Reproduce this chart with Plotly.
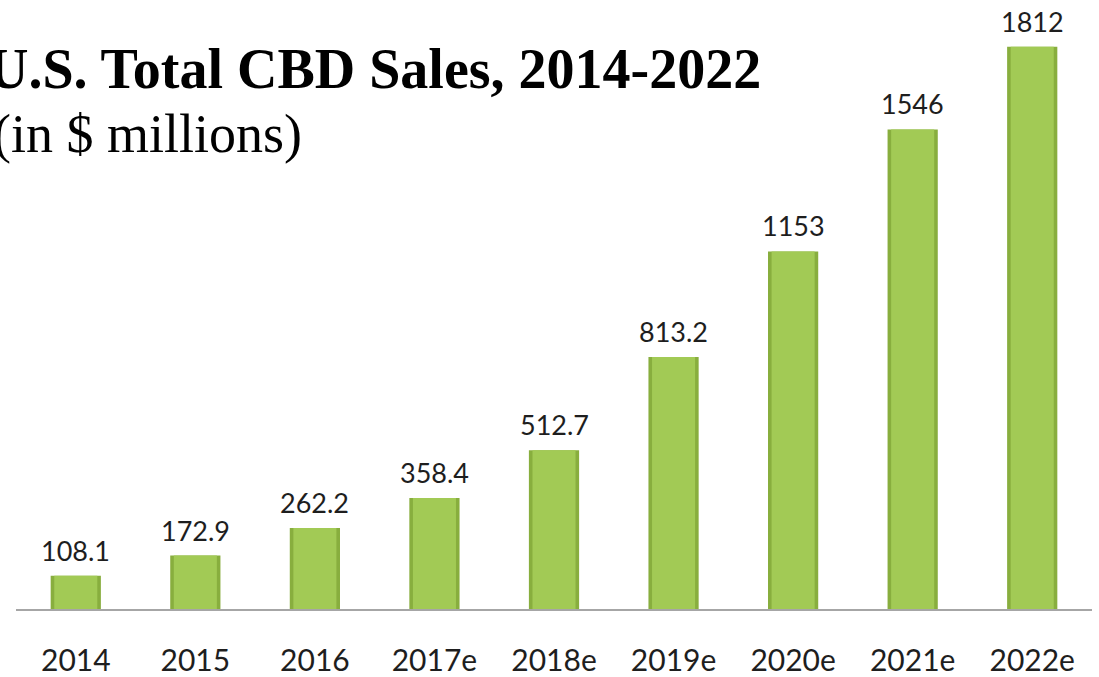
import plotly.graph_objects as go

categories = ["2014", "2015", "2016", "2017e", "2018e", "2019e", "2020e", "2021e", "2022e"]
sales = [108.1, 172.9, 262.2, 358.4, 512.7, 813.2, 1153, 1546, 1812]
value_labels = ["108.1", "172.9", "262.2", "358.4", "512.7", "813.2", "1153", "1546", "1812"]

W, H = 1099, 677

fig = go.Figure()
# outer (edge) bar
fig.add_trace(go.Bar(
    x=categories, y=sales, width=0.42,
    marker=dict(color="#88AE3E", line=dict(width=0)),
    hoverinfo="skip",
))
# inner lighter face
fig.add_trace(go.Bar(
    x=categories, y=sales, width=0.36,
    marker=dict(color="#A2CA55", line=dict(width=0)),
    hoverinfo="skip",
))

for i, (v, t) in enumerate(zip(sales, value_labels)):
    fig.add_annotation(x=i, y=v, text=t, showarrow=False, yanchor="bottom",
                       yshift=7, font=dict(family="Lato", size=27, color="#1E1E1E"))

fig.add_annotation(xref="paper", yref="paper", x=-14 / W, y=1 - 69 / H,
                   xanchor="left", yanchor="middle", showarrow=False,
                   text="<b>U.S. Total CBD Sales, 2014-2022</b>",
                   font=dict(family="Liberation Serif", size=56, color="#000000"))
fig.add_annotation(xref="paper", yref="paper", x=-9 / W, y=1 - 135 / H,
                   xanchor="left", yanchor="middle", showarrow=False,
                   text="(in $ millions)",
                   font=dict(family="Liberation Serif", size=54, color="#000000"))

fig.update_layout(
    width=W, height=H,
    margin=dict(l=0, r=0, t=0, b=0),
    paper_bgcolor="white", plot_bgcolor="white",
    barmode="overlay",
    showlegend=False,
    xaxis=dict(type="category", domain=[16 / W, 1092 / W], range=[-0.5, len(categories) - 0.5],
               showline=True, linecolor="#A6A6A6", linewidth=2,
               showgrid=False, ticks="", ticklabelstandoff=24,
               tickfont=dict(family="Lato", size=30, color="#1E1E1E")),
    yaxis=dict(domain=[(H - 612) / H, 1], range=[0, 1963], visible=False),
)

fig.write_html("out.html", config={"displayModeBar": False},
               post_script="document.body.style.margin='0px';")
